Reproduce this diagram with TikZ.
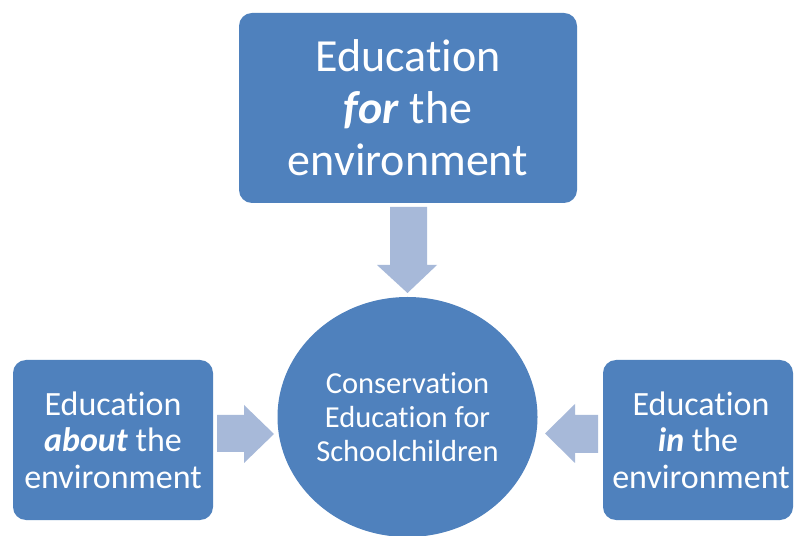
\documentclass[tikz,border=0pt]{standalone}
\usepackage{fontspec}
\setmainfont[Ligatures={NoCommon,NoContextual}]{Carlito}
\usetikzlibrary{shapes.geometric}
\definecolor{boxblue}{HTML}{4F81BD}
\definecolor{arrowblue}{HTML}{A7B9D9}
\tikzset{
  box/.style={fill=boxblue, draw=none, rounded corners=13pt, text=white, align=center, inner sep=0pt},
  blockarrow/.style={fill=arrowblue, draw=none},
}
\begin{document}
\begin{tikzpicture}[x=1pt,y=1pt]
\useasboundingbox (0,0) rectangle (794,535);
\fill[white] (0,0) rectangle (794,535);
% top box
\node[box, minimum width=338pt, minimum height=190pt, font=\fontsize{46}{52}\selectfont] (top) at (408,427)
  {Education\\\textbf{\textit{for}} the\\environment};
% left box
\node[box, minimum width=200pt, minimum height=160pt, font=\fontsize{34}{36.5}\selectfont] (left) at (113,95)
  {Education\\\textbf{\textit{about}} the\\environment};
% right box
\node[box, minimum width=190pt, minimum height=160pt, font=\fontsize{34}{36.5}\selectfont] (right) at (698,95)
  {\hspace*{6pt}Education\\\textbf{\textit{in}} the\\\hspace*{6pt}environment};
% centre ellipse
\node[ellipse, fill=boxblue, draw=none, minimum width=260pt, minimum height=240pt, inner sep=0pt,
  text=white, align=center, font=\fontsize{30.5}{34}\selectfont] (centre) at (407.5,118)
  {Conservation\\Education for\\Schoolchildren};
% arrows
\fill[blockarrow] (390,328) -- (427,328) -- (427,270) -- (437,270) -- (407.5,242) -- (377,270) -- (390,270) -- cycle;
\fill[blockarrow] (217,120) -- (244,120) -- (244,130) -- (274,101) -- (244,72) -- (244,83) -- (217,83) -- cycle;
\fill[blockarrow] (598,120) -- (575,120) -- (575,131) -- (545,101.5) -- (575,72) -- (575,82) -- (598,82) -- cycle;
\end{tikzpicture}
\end{document}
